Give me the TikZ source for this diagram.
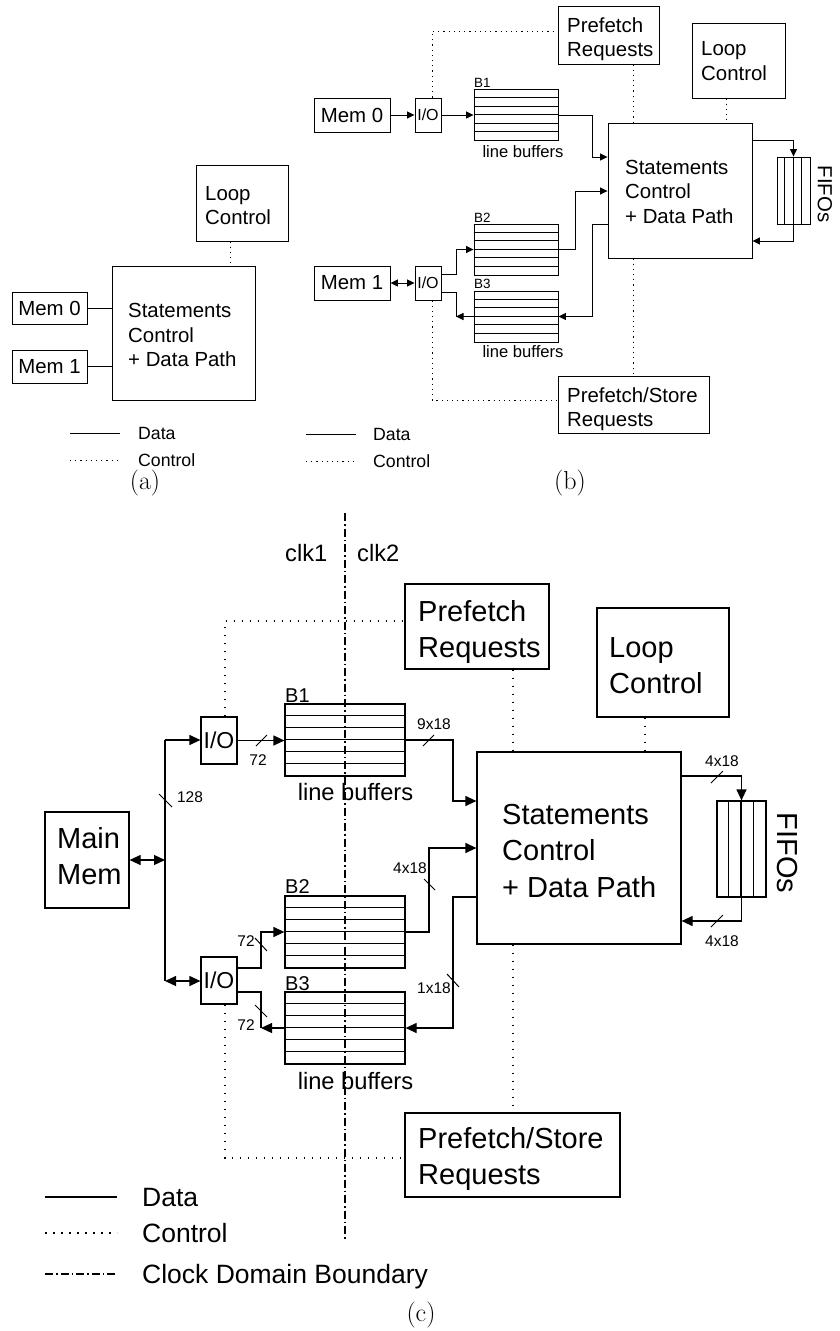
\documentclass[tikz,border=0pt]{standalone}
\usepackage{fontspec}
\newfontfamily\diagfont{Liberation Sans}
\usetikzlibrary{arrows.meta}
\tikzset{
  fA/.style={font=\diagfont\fontsize{20.4}{24}\selectfont},
  fAio/.style={font=\diagfont\fontsize{16}{19}\selectfont},
  fAb/.style={font=\diagfont\fontsize{13.4}{16}\selectfont},
  fAlb/.style={font=\diagfont\fontsize{16.6}{20}\selectfont},
  fAleg/.style={font=\diagfont\fontsize{17.7}{21}\selectfont},
  fC/.style={font=\diagfont\fontsize{29}{36}\selectfont},
  fCio/.style={font=\diagfont\fontsize{23}{27}\selectfont},
  fCb/.style={font=\diagfont\fontsize{20}{24}\selectfont},
  fClb/.style={font=\diagfont\fontsize{23.7}{28}\selectfont},
  fCw/.style={font=\diagfont\fontsize{15.5}{18}\selectfont},
  fCleg/.style={font=\diagfont\fontsize{26.5}{30}\selectfont},
  capt/.style={font=\fontsize{26}{30}\selectfont, inner sep=0pt},
  txt/.style={anchor=base west, inner sep=0pt},
  ctxt/.style={anchor=base, inner sep=0pt},
  wA/.style={line width=0.9pt},
  wC/.style={line width=1.2pt},
  boxA/.style={draw, wA, inner sep=0pt},
  boxC/.style={draw, wC, inner sep=0pt},
  arB/.style={-{Triangle[length=7.5pt,width=7pt]}},
  biB/.style={{Triangle[length=7.5pt,width=7pt]}-{Triangle[length=7.5pt,width=7pt]}},
  arC/.style={-{Triangle[length=11pt,width=10pt]}},
  biC/.style={{Triangle[length=11pt,width=10pt]}-{Triangle[length=11pt,width=10pt]}},
  ctlA/.style={wA, dash pattern=on 1.2pt off 4pt},
  ctlC/.style={wC, dash pattern=on 1.6pt off 6.4pt},
  clkC/.style={wC, dash pattern=on 8pt off 3pt on 1.5pt off 3pt},
  slash/.style={line width=1pt},
}
\begin{document}
\begin{tikzpicture}[x=1pt, y=-1pt]
\useasboundingbox (0,0) rectangle (839,1331);

% ================= (a) =================
\node[boxA, minimum width=75pt, minimum height=32pt, fA] (memA0) at (49.5,308) {Mem 0};
\node[boxA, minimum width=75pt, minimum height=33pt, fA] (memA1) at (49.5,366.5) {Mem 1};
\node[boxA, minimum width=143pt, minimum height=134pt] (stA) at (183.5,333) {};
\node[txt, fA] (stA1) at (128,317) {Statements};
\node[txt, fA] (stA2) at (128,342) {Control};
\node[txt, fA] (stA3) at (128,366) {+ Data Path};
\node[boxA, minimum width=92pt, minimum height=76pt] (lcA) at (242,203) {};
\node[txt, fA] (lcA1) at (205,200) {Loop};
\node[txt, fA] (lcA2) at (205,224) {Control};

\draw[wA] (memA0.east) -- (memA0.east -| stA.west);
\draw[wA] (memA1.east) -- (memA1.east -| stA.west);
\coordinate (dA) at (230,0);
\draw[ctlA] (lcA.south -| dA) -- (stA.north -| dA);

\coordinate (legA1) at (70,433); \coordinate (legA2) at (120,433);
\draw[wA] (legA1) -- (legA2);
\node[txt, fAleg] (legAd) at (138,439) {Data};
\coordinate (legA3) at (70,460); \coordinate (legA4) at (120,460);
\draw[ctlA] (legA3) -- (legA4);
\node[txt, fAleg] (legAc) at (138,466) {Control};
\node[capt] (capA) at (145,483) {(a)};

% ================= (b) =================
\node[boxA, minimum width=76pt, minimum height=34pt, fA] (memB0) at (352,115) {Mem 0};
\node[boxA, minimum width=26pt, minimum height=34pt, fAio] (ioB0) at (428,115) {I/O};
\node[boxA, minimum width=84pt, minimum height=51pt] (bufB1) at (516,115) {};
\node[boxA, minimum width=76pt, minimum height=34pt, fA] (memB1) at (352,283) {Mem 1};
\node[boxA, minimum width=26pt, minimum height=34pt, fAio] (ioB1) at (428,283) {I/O};
\node[boxA, minimum width=84pt, minimum height=51pt] (bufB2) at (516,249.5) {};
\node[boxA, minimum width=84pt, minimum height=51pt] (bufB3) at (516,316.5) {};
\foreach \b in {bufB1,bufB2,bufB3}
  \foreach \k in {1,...,5}
    \draw[wA] ([yshift=-\k*8.5pt]\b.north west) -- ([yshift=-\k*8.5pt]\b.north east);
\node[txt, fAb] (lbB1) at (474,87) {B1};
\node[txt, fAb] (lbB2) at (474,222) {B2};
\node[txt, fAb] (lbB3) at (474,288) {B3};
\node[ctxt, fAlb] (lbfB1) at (523,157) {line buffers};
\node[ctxt, fAlb] (lbfB3) at (523,357) {line buffers};

\node[boxA, minimum width=101pt, minimum height=58pt] (pfB) at (608.5,35) {};
\node[txt, fA] (pfB1) at (567,32) {Prefetch};
\node[txt, fA] (pfB2) at (567,56) {Requests};
\node[boxA, minimum width=93pt, minimum height=75pt] (lcB) at (738.5,60.5) {};
\node[txt, fA] (lcB1) at (701,55) {Loop};
\node[txt, fA] (lcB2) at (701,80) {Control};
\node[boxA, minimum width=144pt, minimum height=135pt] (stB) at (680,190.5) {};
\node[txt, fA] (stB1) at (625,174) {Statements};
\node[txt, fA] (stB2) at (625,198) {Control};
\node[txt, fA] (stB3) at (625,223) {+ Data Path};
\node[boxA, minimum width=33pt, minimum height=67pt] (fifoB) at (793.5,190.5) {};
\foreach \k in {1,2,3}
  \draw[wA] ([xshift=\k*8.25pt]fifoB.north west) -- ([xshift=\k*8.25pt]fifoB.south west);
\node[fA, rotate=-90, inner sep=0pt] (fifoBt) at (825,194) {FIFOs};
\node[boxA, minimum width=151pt, minimum height=57pt] (pfsB) at (633.5,404.5) {};
\node[txt, fA] (pfsB1) at (567,402) {Prefetch/Store};
\node[txt, fA] (pfsB2) at (567,426) {Requests};

% data wires
\draw[wA, arB] (memB0.east) -- (ioB0.west);
\draw[wA, arB] (ioB0.east) -- (ioB0.east -| bufB1.west);
\coordinate (b1) at (592,157);
\draw[wA, arB] (bufB1.east) -| (b1) -- (b1 -| stB.west);
\coordinate (b2) at (575,191);
\draw[wA, arB] (bufB2.east) -| (b2) -- (b2 -| stB.west);
\coordinate (b3) at (592,224);
\draw[wA, arB] (b3 -| stB.west) -- (b3) |- (bufB3.east);
\draw[wA, biB] (memB1.east) -- (ioB1.west);
\coordinate (b4) at (456,274);
\draw[wA, arB] (b4 -| ioB1.east) -- (b4) |- (bufB2.west);
\coordinate (b5) at (456,292);
\coordinate (b6) at (456,316.5);
\draw[wA] (b5 -| ioB1.east) -- (b5) -- (b6);
\draw[wA, arB] (bufB3.west) -- (b6);
\coordinate (b7) at (793.5,140);
\draw[wA, arB] (stB.east |- b7) -| (fifoB.north);
\coordinate (b8) at (793.5,241);
\draw[wA, arB] (fifoB.south) |- (stB.east |- b8);
% control wires
\coordinate (b9) at (432,31);
\draw[ctlA] (ioB0.north -| b9) -- (b9) -- (b9 -| pfB.west);
\coordinate (b10) at (633,0);
\draw[ctlA] (pfB.south -| b10) -- (stB.north -| b10);
\draw[ctlA] (stB.south -| b10) -- (pfsB.north -| b10);
\coordinate (b11) at (726,0);
\draw[ctlA] (lcB.south -| b11) -- (stB.north -| b11);
\coordinate (b12) at (432,400);
\draw[ctlA] (ioB1.south -| b12) -- (b12) -- (b12 -| pfsB.west);

\coordinate (legB1) at (306,434); \coordinate (legB2) at (356,434);
\draw[wA] (legB1) -- (legB2);
\node[txt, fAleg] (legBd) at (373,440) {Data};
\coordinate (legB3) at (306,461); \coordinate (legB4) at (356,461);
\draw[ctlA] (legB3) -- (legB4);
\node[txt, fAleg] (legBc) at (373,467) {Control};
\node[capt] (capB) at (570,483) {(b)};

% ================= (c) =================
\coordinate (clkT) at (345,513);
\coordinate (clkB) at (345,1241);
\draw[clkC] (clkT) -- (clkB);
\node[txt, fClb] (clk1) at (285,561) {clk1};
\node[txt, fClb] (clk2) at (357,561) {clk2};

\node[boxC, minimum width=84pt, minimum height=96pt] (mm) at (87,860) {};
\node[txt, fC] (mm1) at (57,848) {Main};
\node[txt, fC] (mm2) at (57,884) {Mem};
\node[boxC, minimum width=36pt, minimum height=47pt, fCio] (ioT) at (219,740.5) {I/O};
\node[boxC, minimum width=36pt, minimum height=47pt, fCio] (ioB) at (219,980.5) {I/O};
\node[boxC, minimum width=120pt, minimum height=72pt] (buf1) at (345,740) {};
\node[boxC, minimum width=120pt, minimum height=72pt] (buf2) at (345,932) {};
\node[boxC, minimum width=120pt, minimum height=72pt] (buf3) at (345,1028) {};
\foreach \b in {buf1,buf2,buf3}
  \foreach \k in {1,...,5}
    \draw[wC] ([yshift=-\k*12pt]\b.north west) -- ([yshift=-\k*12pt]\b.north east);
\node[txt, fCb] (lb1) at (285,702) {B1};
\node[txt, fCb] (lb2) at (285,893) {B2};
\node[txt, fCb] (lb3) at (285,990) {B3};
\node[ctxt, fClb] (lbf1) at (355.5,800) {line buffers};
\node[ctxt, fClb] (lbf3) at (355.5,1089) {line buffers};

\node[boxC, minimum width=144pt, minimum height=85pt] (pf) at (477,626.5) {};
\node[txt, fC] (pf1) at (418,621) {Prefetch};
\node[txt, fC] (pf2) at (418,657) {Requests};
\node[boxC, minimum width=132pt, minimum height=109pt] (lc) at (663,662.5) {};
\node[txt, fC] (lc1) at (609,657) {Loop};
\node[txt, fC] (lc2) at (609,693) {Control};
\node[boxC, minimum width=204pt, minimum height=192pt] (st) at (579,848) {};
\node[txt, fC] (st1) at (502,824) {Statements};
\node[txt, fC] (st2) at (502,860) {Control};
\node[txt, fC] (st3) at (502,897) {+ Data Path};
\node[boxC, minimum width=49pt, minimum height=96pt] (fifo) at (741.5,849) {};
\foreach \k in {1,2,3}
  \draw[wC] ([xshift=\k*12.25pt]fifo.north west) -- ([xshift=\k*12.25pt]fifo.south west);
\node[fC, rotate=-90, inner sep=0pt] (fifot) at (787.5,853) {FIFOs};
\node[boxC, minimum width=215pt, minimum height=84pt] (pfs) at (512.5,1155) {};
\node[txt, fC] (pfs1) at (418,1148) {Prefetch/Store};
\node[txt, fC] (pfs2) at (418,1184) {Requests};

% data wires
\coordinate (busT) at (165,740);
\coordinate (busB) at (165,981);
\draw[wC] (busT) -- (busB);
\draw[wC, arC] (busT) -- (busT -| ioT.west);
\draw[wC, biC] (busB) -- (busB -| ioB.west);
\draw[wC, biC] (mm.east) -- (mm.east -| busT);
\draw[wC, arC] (ioT.east) -- (ioT.east -| buf1.west);
\coordinate (k1) at (453,801);
\draw[wC, arC] (buf1.east) -| (k1) -- (k1 -| st.west);
\coordinate (k2) at (429,848);
\draw[wC, arC] (buf2.east) -| (k2) -- (k2 -| st.west);
\coordinate (k3) at (453,897);
\draw[wC, arC] (k3 -| st.west) -- (k3) |- (buf3.east);
\coordinate (k4) at (261,968);
\draw[wC, arC] (k4 -| ioB.east) -- (k4) |- (buf2.west);
\coordinate (k5) at (261,992);
\coordinate (k6) at (261,1028);
\draw[wC] (k5 -| ioB.east) -- (k5) -- (k6);
\draw[wC, arC] (buf3.west) -- (k6);
\coordinate (k7) at (741.5,776);
\draw[wC, arC] (st.east |- k7) -| (fifo.north);
\coordinate (k8) at (741.5,921);
\draw[wC, arC] (fifo.south) |- (st.east |- k8);

% bus widths
\draw[slash] (256,746) -- (267,735);
\node[ctxt, fCw] (w72a) at (258,765) {72};
\draw[slash] (159,794) -- (172,807);
\node[ctxt, fCw] (w128) at (190,802) {128};
\draw[slash] (423,746) -- (434,735);
\node[ctxt, fCw] (w918) at (434,729) {9x18};
\draw[slash] (711,783) -- (723,771);
\node[ctxt, fCw] (w418t) at (722,766) {4x18};
\draw[slash] (711,927) -- (723,915);
\node[ctxt, fCw] (w418b) at (722,946) {4x18};
\draw[slash] (424,879) -- (435,890);
\node[ctxt, fCw] (w418l) at (410,873) {4x18};
\draw[slash] (447,974) -- (459,987);
\node[ctxt, fCw] (w118) at (434,993) {1x18};
\draw[slash] (255,938) -- (267,951);
\node[ctxt, fCw] (w72b) at (246,946) {72};
\draw[slash] (255,1005) -- (267,1017);
\node[ctxt, fCw] (w72c) at (246,1030) {72};

% control wires
\coordinate (d1) at (225,621);
\draw[ctlC] (ioT.north -| d1) -- (d1) -- (d1 -| pf.west);
\coordinate (d2) at (513,0);
\draw[ctlC] (pf.south -| d2) -- (st.north -| d2);
\draw[ctlC] (st.south -| d2) -- (pfs.north -| d2);
\coordinate (d3) at (645,0);
\draw[ctlC] (lc.south -| d3) -- (st.north -| d3);
\coordinate (d4) at (225,1158);
\draw[ctlC] (ioB.south -| d4) -- (d4) -- (d4 -| pfs.west);

% legend
\coordinate (legC1) at (45,1197); \coordinate (legC2) at (117,1197);
\draw[wC] (legC1) -- (legC2);
\node[txt, fCleg] (legCd) at (142,1206) {Data};
\coordinate (legC3) at (45,1233); \coordinate (legC4) at (117,1233);
\draw[ctlC] (legC3) -- (legC4);
\node[txt, fCleg] (legCc) at (142,1242) {Control};
\coordinate (legC5) at (45,1274); \coordinate (legC6) at (117,1274);
\draw[clkC] (legC5) -- (legC6);
\node[txt, fCleg] (legCk) at (142,1283) {Clock Domain Boundary};
\node[capt] (capC) at (421,1315) {(c)};
\end{tikzpicture}
\end{document}
